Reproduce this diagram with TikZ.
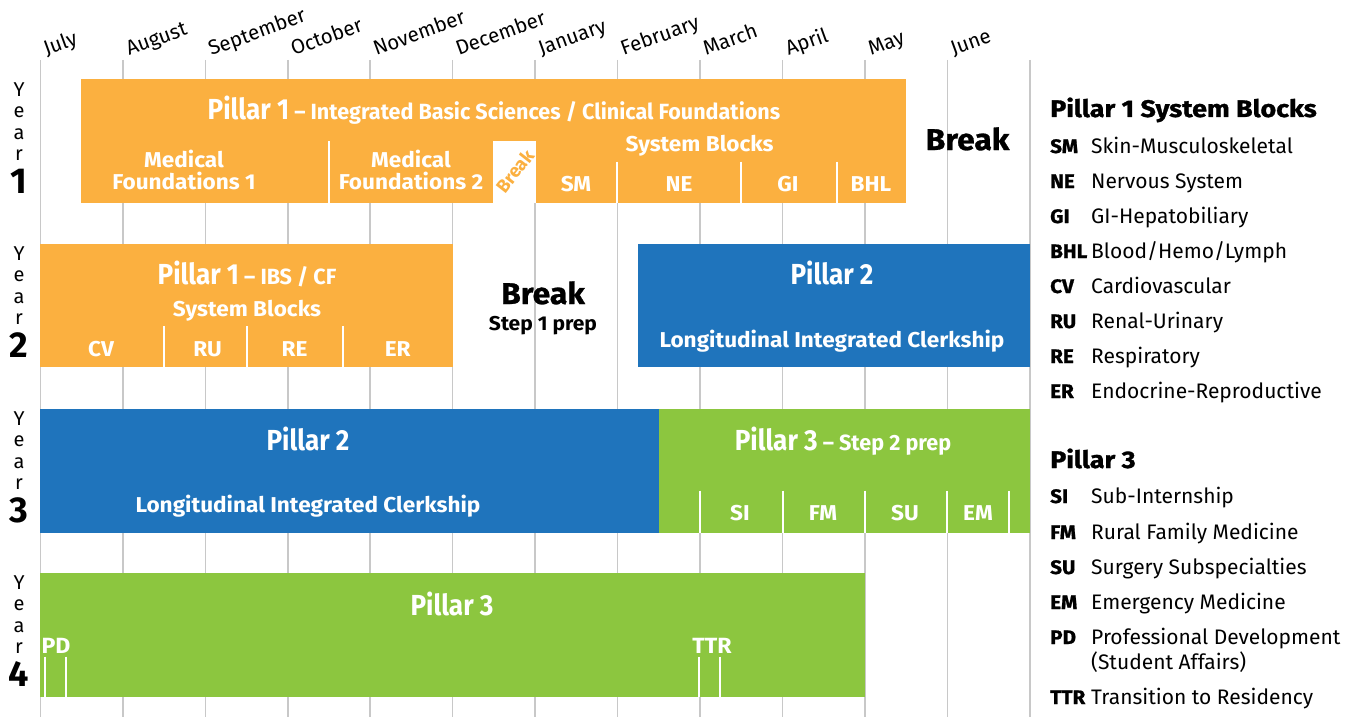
\documentclass[tikz,border=0pt]{standalone}
\usepackage{fontspec}
\setmainfont{Fira Sans}
\newfontfamily\cond[FakeStretch=0.9]{Fira Sans}
\newfontfamily\condsub[FakeStretch=0.98]{Fira Sans}
\newfontfamily\condb[FakeStretch=1.05]{Fira Sans}
\newfontfamily\wide[FakeStretch=1.05]{Fira Sans}
\newfontfamily\heavy[FakeBold=1.2,FakeStretch=1.12]{Fira Sans}
\newfontfamily\heavyb[FakeBold=1.0,FakeStretch=1.06]{Fira Sans}
\definecolor{porange}{HTML}{FBB040}
\definecolor{pblue}{HTML}{1F74BC}
\definecolor{pgreen}{HTML}{8CC63F}
\definecolor{gridgray}{HTML}{C8C8C8}
\tikzset{
  gridline/.style={draw=gridgray, line width=1.6pt},
  divider/.style={draw=white, line width=2pt},
  month/.style={anchor=base west, rotate=20, inner sep=0pt, font=\fontsize{20.5}{22}\selectfont},
  yl/.style={inner sep=0pt, font=\fontsize{20}{22}\selectfont},
  yn/.style={inner sep=0pt, font=\bfseries\fontsize{36}{38}\selectfont},
  titlebig/.style={anchor=base, inner sep=0pt, text=white, font=\cond\bfseries\fontsize{29}{31}\selectfont},
  sub/.style={anchor=base, inner sep=0pt, text=white, font=\wide\bfseries\fontsize{21.5}{23}\selectfont},
  abbr/.style={anchor=base, inner sep=0pt, text=white, font=\wide\bfseries\fontsize{21.5}{23}\selectfont},
  brk/.style={anchor=base, inner sep=0pt, font=\heavyb\bfseries\fontsize{30}{32}\selectfont},
  lhead/.style={anchor=base west, inner sep=0pt, font=\heavy\bfseries\fontsize{24}{26}\selectfont},
  lab/.style={anchor=base west, inner sep=0pt, font=\heavyb\bfseries\fontsize{19.5}{21}\selectfont},
  ldesc/.style={anchor=base west, inner sep=0pt, font=\fontsize{21}{23}\selectfont},
  pdlab/.style={anchor=base, inner sep=0pt, text=white, font=\condb\bfseries\fontsize{22}{24}\selectfont},
}
\newcommand{\subt}[1]{{\condsub\bfseries\fontsize{22}{24}\selectfont\ – #1}}
\begin{document}
\begin{tikzpicture}[x=1pt,y=-1pt]
\useasboundingbox (0,0) rectangle (1353,717);
\fill[white] (0,0) rectangle (1353,717);
% grid
\foreach \i in {0,...,12}{
  \draw[gridline] ({40.4+82.45*\i},60) -- ({40.4+82.45*\i},717);
}
% months
\foreach \m [count=\i from 0] in {July,August,September,October,November,December,January,February,March,April,May,June}{
  \node[month] (m\i) at ({40.4+82.45*\i+6},56) {\m};
}
% year labels
\foreach \yy/\d in {0/1,164/2,329/3,493/4}{
  \node[yl] (y\d a) at (19,90+\yy) {Y};
  \node[yl] (y\d b) at (19,112+\yy) {e};
  \node[yl] (y\d c) at (19,134+\yy) {a};
  \node[yl] (y\d d) at (19,155+\yy) {r};
  \node[yn] (y\d n) at (19,181+\yy) {\d};
}
% ---------- Year 1
\fill[porange] (81.4,79) rectangle (906,202.5);
\fill[white] (492.5,141) rectangle (536,202.5);
\draw[divider] (328.6,141) -- (328.6,202.5);
\draw[divider] (617,161.5) -- (617,202.5);
\draw[divider] (741.4,161.5) -- (741.4,202.5);
\draw[divider] (837,161.5) -- (837,202.5);
\node[titlebig] (t1) at (494,119) {Pillar 1\subt{Integrated Basic Sciences / Clinical Foundations}};
\node[sub] (mf1a) at (184,167) {Medical};
\node[sub] (mf1b) at (184,189.5) {Foundations 1};
\node[sub] (mf2a) at (411,167) {Medical};
\node[sub] (mf2b) at (411,189.5) {Foundations 2};
\node[inner sep=0pt, rotate=52, text=porange, font=\bfseries\fontsize{18.5}{19}\selectfont] (brk1s) at (515,171) {Break};
\node[sub] (sb1) at (699.6,151.5) {System Blocks};
\node[abbr] (SM) at (576,191.5) {SM};
\node[abbr] (NE) at (679,191.5) {NE};
\node[abbr] (GI) at (788,191.5) {GI};
\node[abbr] (BHL) at (871,191.5) {BHL};
\node[brk] (brk1) at (967.5,150) {Break};
% ---------- Year 2
\fill[porange] (40.4,244) rectangle (453,367.3);
\draw[divider] (164,326) -- (164,367.3);
\draw[divider] (247,326) -- (247,367.3);
\draw[divider] (343,326) -- (343,367.3);
\node[titlebig] (t2) at (247,284) {Pillar 1\subt{IBS / CF}};
\node[sub] (sb2) at (247,316) {System Blocks};
\node[abbr] (CV) at (101,356) {CV};
\node[abbr] (RU) at (207.5,356) {RU};
\node[abbr] (RE) at (294.6,356) {RE};
\node[abbr] (ER) at (397.7,356) {ER};
\node[brk] (brk2) at (543,304) {Break};
\node[anchor=base, inner sep=0pt, font=\condb\bfseries\fontsize{20}{22}\selectfont] (s1p) at (543,330) {Step 1 prep};
\fill[pblue] (638.3,244) rectangle (1029.8,367.3);
\node[titlebig] (p2a) at (832,284) {Pillar 2};
\node[sub] (lic2) at (832,347) {Longitudinal Integrated Clerkship};
% ---------- Year 3
\fill[pblue] (40.4,409) rectangle (658.5,532.7);
\fill[pgreen] (658.5,409) rectangle (1029.8,532.7);
\node[titlebig] (p2b) at (308,450) {Pillar 2};
\node[sub] (lic3) at (308,512) {Longitudinal Integrated Clerkship};
\foreach \xx in {700,782.5,864.9,947.4,1009}{
  \draw[divider] (\xx,490.7) -- (\xx,532.7);
}
\node[titlebig] (p3a) at (843,450) {Pillar 3\subt{Step 2 prep}};
\node[abbr] (SI) at (740,520) {SI};
\node[abbr] (FM) at (823,520) {FM};
\node[abbr] (SU) at (905,520) {SU};
\node[abbr] (EM) at (978,520) {EM};
% ---------- Year 4
\fill[pgreen] (40.4,572.7) rectangle (864.9,696.7);
\node[titlebig] (p3b) at (452,615) {Pillar 3};
\draw[divider] (44.8,656.7) -- (44.8,696.7);
\draw[divider] (66,656.7) -- (66,696.7);
\draw[divider] (699.2,656.7) -- (699.2,696.7);
\draw[divider] (720.4,656.7) -- (720.4,696.7);
\node[pdlab] (PD) at (56,653) {PD};
\node[pdlab] (TTR) at (712,653) {TTR};
% ---------- Legend
\node[lhead] (lh1) at (1050,117) {Pillar 1 System Blocks};
\foreach \a/\t [count=\k from 0] in {SM/Skin-Musculoskeletal,NE/Nervous System,GI/GI-Hepatobiliary,BHL/{Blood/Hemo/Lymph},CV/Cardiovascular,RU/Renal-Urinary,RE/Respiratory,ER/Endocrine-Reproductive}{
  \node[lab] (la\k) at (1050,{153+35*\k}) {\a};
  \node[ldesc] (ld\k) at (1091,{153+35*\k}) {\t};
}
\node[lhead] (lh3) at (1050,468) {Pillar 3};
\foreach \a/\t/\yy [count=\k from 0] in {SI/Sub-Internship/503,FM/Rural Family Medicine/539,SU/Surgery Subspecialties/574,EM/Emergency Medicine/609,PD/Professional Development/644,TTR/Transition to Residency/704}{
  \node[lab] (lb\k) at (1050,\yy) {\a};
  \node[ldesc] (le\k) at (1091,\yy) {\t};
}
\node[ldesc] (le4b) at (1091,669) {(Student Affairs)};
\end{tikzpicture}
\end{document}
